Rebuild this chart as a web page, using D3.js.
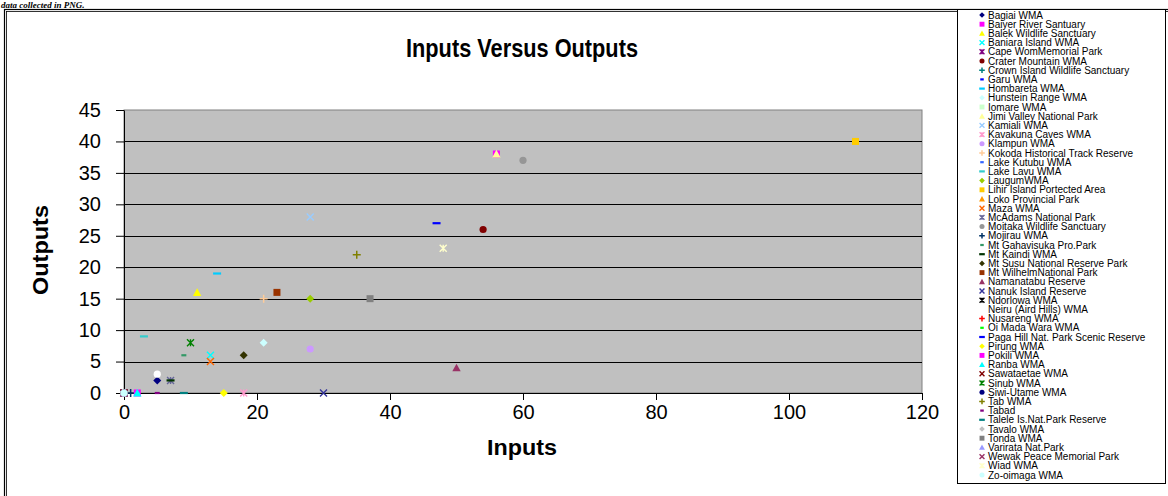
<!DOCTYPE html>
<html><head><meta charset="utf-8">
<script src="https://cdn.jsdelivr.net/npm/d3@7"></script>
<style>
html,body{margin:0;padding:0;background:#fff;}
svg text{font-family:Arial,"Liberation Sans",sans-serif;}
</style></head>
<body>
<svg id="c" width="1168" height="496"></svg>
<script>
// ---------- data ----------
const sites = ["Bagiai WMA","Baiyer River Santuary","Balek Wildlife Sanctuary","Baniara Island WMA","Cape WomMemorial Park","Crater Mountain WMA","Crown Island Wildlife Sanctuary","Garu WMA","Hombareta WMA","Hunstein Range WMA","Iomare WMA","Jimi Valley National Park","Kamiali WMA","Kavakuna Caves WMA","Klampun WMA","Kokoda Historical Track Reserve","Lake Kutubu WMA","Lake Lavu WMA","LaugumWMA","Lihir Island Portected Area","Loko Provincial Park","Maza WMA","McAdams National Park","Moitaka Wildlife Sanctuary","Mojirau WMA","Mt Gahavisuka Pro.Park","Mt Kaindi WMA","Mt Susu National Reserve Park","Mt WilhelmNational Park","Namanatabu Reserve","Nanuk Island Reserve","Ndorlowa WMA","Neiru (Aird Hills) WMA","Nusareng WMA","Oi Mada Wara WMA","Paga Hill Nat. Park Scenic Reserve","Pirung WMA","Pokili WMA","Ranba WMA","Sawataetae WMA","Sinub WMA","Siwi-Utame WMA","Tab WMA","Tabad","Talele Is.Nat.Park Reserve","Tavalo WMA","Tonda WMA","Varirata Nat.Park","Wewak Peace Memorial Park","Wiad WMA","Zo-oimaga WMA"];
const inputs  = [5,56,11,13,0,54,0,0,14,21,0,56,28,18,28,21,0,3,28,110,0,13,7,60,1,9,7,18,23,50,30,0,5,0,0,47,15,2,2,0,10,0,35,5,9,0,37,0,0,48,0];
const outputs = [2,38,16,6,0,26,0,0,19,8,0,38,28,0,7,15,0,9,15,40,0,5,2,37,0,6,2,6,16,4,0,0,3,0,0,27,0,0,0,0,8,0,22,0,0,0,15,0,0,23,0];
const xTicks = [0,20,40,60,80,100,120];
const yTicks = [0,5,10,15,20,25,30,35,40,45];
const chartTitle = "Inputs Versus Outputs";
const xTitle = "Inputs", yTitle = "Outputs";
const caption = "data collected in PNG.";

// ---------- styles ----------
const palette = ["#000080","#FF00FF","#FFFF00","#00FFFF","#800080","#800000","#008080","#0000FF","#00CCFF","#CCFFFF","#CCFFCC","#FFFF99","#99CCFF","#FF99CC","#CC99FF","#FFCC99","#3366FF","#33CCCC","#99CC00","#FFCC00","#FF9900","#FF6600","#666699","#969696","#003366","#339966","#003300","#333300","#993300","#993366","#333399","#000000","#FFFFFF","#FF0000","#00FF00","#0000FF","#FFFF00","#FF00FF","#00FFFF","#800000","#008000","#000080","#808000","#800080","#008080","#C0C0C0","#808080","#9999FF","#993366","#FFFFCC","#CCFFFF"];
const shapes = ["diamond","square","triangle","x","star","circle","plus","sdash","ldash"];

const svg = d3.select("#c");

// document caption fragment above chart
svg.append("text").attr("x",1).attr("y",7.5)
  .style("font-family","'Liberation Serif','Times New Roman',serif")
  .style("font-style","italic").style("font-weight","bold").style("font-size","9px")
  .text(caption);

// outer chart border (double line)
svg.append("rect").attr("x",4.5).attr("y",9.5).attr("width",1200).attr("height",600)
  .attr("fill","none").attr("stroke","#000").attr("stroke-width",1.2);
svg.append("rect").attr("x",6.5).attr("y",11.5).attr("width",1200).attr("height",600)
  .attr("fill","none").attr("stroke","#000").attr("stroke-width",0.8);

const L = 124, R = 922, T = 110, B = 393;
const x = d3.scaleLinear().domain([0,120]).range([L,R]);
const y = d3.scaleLinear().domain([0,45]).range([B,T]);

// plot area
svg.append("rect").attr("x",L).attr("y",T).attr("width",R-L).attr("height",B-T)
  .attr("fill","#C0C0C0").attr("stroke","#808080").attr("stroke-width",1);

// gridlines
svg.append("g").selectAll("line").data(yTicks.filter(d=>d>0 && d<45)).join("line")
  .attr("x1",L).attr("x2",R).attr("y1",d=>Math.round(y(d))+0.5).attr("y2",d=>Math.round(y(d))+0.5)
  .attr("stroke","#000").attr("stroke-width",1);

// axes
const gy = svg.append("g").attr("transform",`translate(${L},0)`)
  .call(d3.axisLeft(y).tickValues(yTicks).tickSize(8).tickPadding(15).tickSizeOuter(0));
const gx = svg.append("g").attr("transform",`translate(0,${B})`)
  .call(d3.axisBottom(x).tickValues(xTicks).tickSize(7).tickPadding(5).tickSizeOuter(0));
[gx,gy].forEach(g=>{
  g.selectAll("text").style("font-size","20px").attr("fill","#000");
  g.selectAll("line").attr("stroke","#000");
  g.select(".domain").attr("stroke","#000");
});

// marker drawing
function marker(g, shape, color, k){
  switch(shape){
    case "diamond": g.append("path").attr("d",`M0,${-4*k}L${4*k},0L0,${4*k}L${-4*k},0Z`).attr("fill",color); break;
    case "square": g.append("rect").attr("x",-3.5*k).attr("y",-3.5*k).attr("width",7*k).attr("height",7*k).attr("fill",color); break;
    case "triangle": g.append("path").attr("d",`M0,${-4.2*k}L${4.2*k},${3.5*k}L${-4.2*k},${3.5*k}Z`).attr("fill",color); break;
    case "x": g.append("path").attr("d",`M${-3.5*k},${-3.5*k}L${3.5*k},${3.5*k}M${-3.5*k},${3.5*k}L${3.5*k},${-3.5*k}`).attr("stroke",color).attr("stroke-width",1.4).attr("fill","none"); break;
    case "star": g.append("path").attr("d",`M${-3.5*k},${-3.5*k}L${3.5*k},${3.5*k}M${-3.5*k},${3.5*k}L${3.5*k},${-3.5*k}M0,${-3.5*k}L0,${3.5*k}`).attr("stroke",color).attr("stroke-width",1.4).attr("fill","none"); break;
    case "circle": g.append("circle").attr("r",3.6*k).attr("fill",color); break;
    case "plus": g.append("path").attr("d",`M${-4*k},0L${4*k},0M0,${-4*k}L0,${4*k}`).attr("stroke",color).attr("stroke-width",1.5).attr("fill","none"); break;
    case "sdash": g.append("rect").attr("x",-2.5*k).attr("y",-1.1).attr("width",5*k).attr("height",2.2).attr("fill",color); break;
    case "ldash": g.append("rect").attr("x",-4*k).attr("y",-1.1).attr("width",8*k).attr("height",2.2).attr("fill",color); break;
  }
}

// points
const pts = svg.append("g");
sites.forEach((name,i)=>{
  const g = pts.append("g").attr("transform",`translate(${x(inputs[i])},${y(outputs[i])})`);
  marker(g, shapes[i%9], palette[i], 1);
});

// titles
svg.append("text").attr("x",522).attr("y",57).attr("text-anchor","middle")
  .attr("textLength",232).attr("lengthAdjust","spacingAndGlyphs")
  .style("font-weight","bold").style("font-size","26px").text(chartTitle);
svg.append("text").attr("x",522).attr("y",455).attr("text-anchor","middle")
  .attr("textLength",70).attr("lengthAdjust","spacingAndGlyphs")
  .style("font-weight","bold").style("font-size","22px").text(xTitle);
svg.append("text").attr("transform","translate(48,250) rotate(-90)").attr("text-anchor","middle")
  .attr("textLength",90).attr("lengthAdjust","spacingAndGlyphs")
  .style("font-weight","bold").style("font-size","22px").text(yTitle);

// legend
const lg = svg.append("g");
lg.append("rect").attr("x",957.5).attr("y",9.5).attr("width",208).attr("height",474)
  .attr("fill","#fff").attr("stroke","#000").attr("stroke-width",1);
const ly = d3.scaleLinear().domain([0,sites.length-1]).range([15,475]);
sites.forEach((name,i)=>{
  const g = lg.append("g").attr("transform",`translate(982,${ly(i)})`);
  marker(g, shapes[i%9], palette[i], 0.7);
  lg.append("text").attr("x",988).attr("y",ly(i)+3.5).style("font-size","10px").attr("fill","#000").text(name);
});
</script>
</body></html>
